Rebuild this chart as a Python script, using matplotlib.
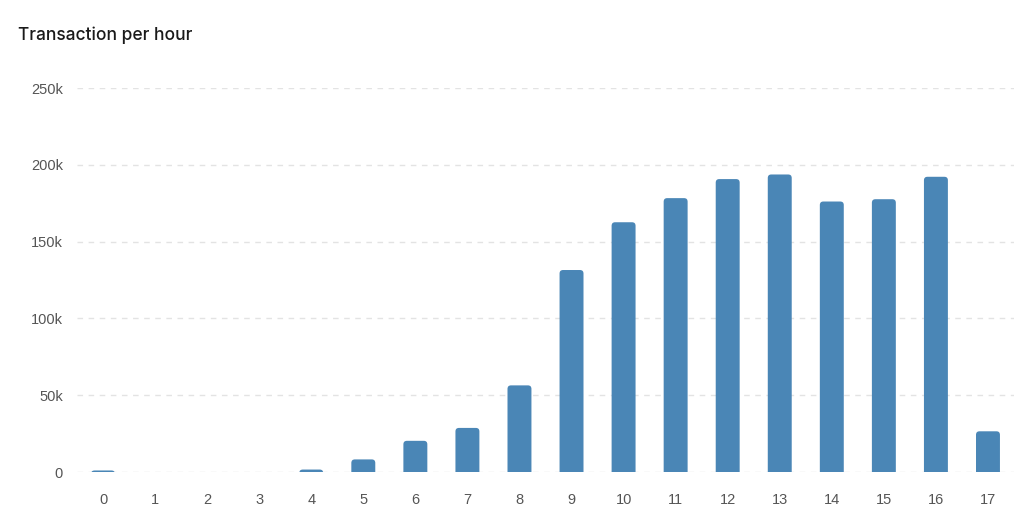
import matplotlib.pyplot as plt
from matplotlib.patches import FancyBboxPatch
from matplotlib.ticker import FuncFormatter

hours = list(range(18))
transactions = [1000, 0, 0, 0, 1600, 8200, 20300, 28700, 56400, 131500,
                162600, 178300, 190700, 193700, 176100, 177600, 192200, 26500]
y_ticks = [0, 50000, 100000, 150000, 200000, 250000]


def k_format(v, pos):
    if v == 0:
        return '0'
    return '%dk' % (v / 1000)


fig = plt.figure(figsize=(10.24, 5.25), dpi=100)
ax_w, ax_h = 937, 384
ax = fig.add_axes([77 / 1024, 1 - 472 / 525, ax_w / 1024, ax_h / 525])

ax.set_xlim(-0.5, 17.5)
ax.set_ylim(0, 250000)

# bars with rounded tops: radius in pixels converted to data units
bar_w = 0.46
rad_px = 3.5
rx = rad_px * 18 / ax_w
ry = rad_px * 250000 / ax_h
bars = ax.bar(hours, transactions, width=bar_w, color='none', zorder=3)
for b in bars:
    h = b.get_height()
    if h <= 0:
        continue
    p = FancyBboxPatch((b.get_x(), -ry), bar_w, h + ry,
                       boxstyle='round,pad=0,rounding_size=%f' % rx,
                       mutation_aspect=ry / rx,
                       facecolor='#4a86b6', edgecolor='none', zorder=3)
    p.set_clip_path(ax.patch)
    ax.add_patch(p)

ax.set_xticks(hours)
ax.set_yticks(y_ticks)
ax.yaxis.set_major_formatter(FuncFormatter(k_format))

ax.grid(axis='y', color='#e3e3e3', linestyle=(0, (4, 4)), linewidth=1, zorder=0)
ax.set_axisbelow(True)
for s in ax.spines.values():
    s.set_visible(False)
ax.tick_params(length=0, labelsize=10.5, labelcolor='#555555')
ax.tick_params(axis='y', pad=10)
ax.tick_params(axis='x', pad=15)
for lab in ax.get_xticklabels() + ax.get_yticklabels():
    lab.set_family('Liberation Sans')

fig.text(18 / 1024, 1 - 35 / 525, 'Transaction per hour', fontsize=12.5,
         family='Inter', fontweight='medium', color='#1a1a1a', va='center')

plt.savefig('out.png')
